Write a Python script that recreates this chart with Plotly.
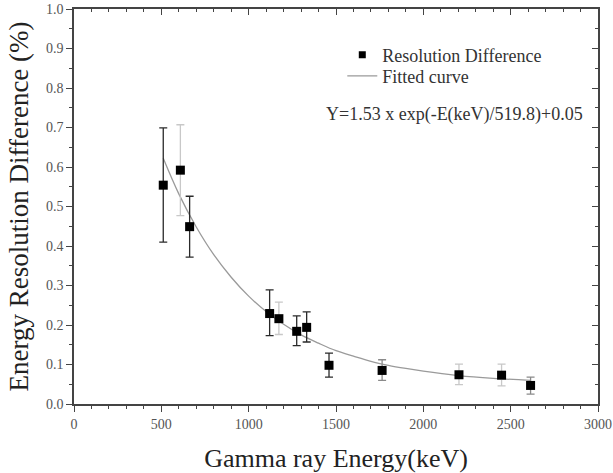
import plotly.graph_objects as go

# ---- data ----
energy_keV = [511, 609, 662, 1120, 1173, 1275, 1332, 1460, 1764, 2204, 2448, 2614]
res_diff = [0.554, 0.592, 0.449, 0.229, 0.216, 0.184, 0.194, 0.098, 0.085, 0.074, 0.073, 0.047]
err_up = [0.145, 0.115, 0.077, 0.060, 0.042, 0.039, 0.039, 0.031, 0.027, 0.027, 0.028, 0.021]
err_down = [0.144, 0.115, 0.077, 0.056, 0.040, 0.036, 0.037, 0.030, 0.025, 0.025, 0.027, 0.022]

fit_E = [511, 600, 700, 800, 900, 1000, 1100, 1200, 1300, 1400, 1500, 1600, 1700,
         1800, 1900, 2000, 2200, 2400, 2614]
fit_Y = [0.622, 0.532, 0.448, 0.378, 0.321, 0.273, 0.234, 0.202, 0.175, 0.154, 0.135,
         0.121, 0.108, 0.098, 0.090, 0.083, 0.072, 0.065, 0.060]

x_ticks = [0, 500, 1000, 1500, 2000, 2500, 3000]
y_ticks = [0.0, 0.1, 0.2, 0.3, 0.4, 0.5, 0.6, 0.7, 0.8, 0.9, 1.0]

equation_text = "Y=1.53 x exp(-E(keV)/519.8)+0.05"
x_title = "Gamma ray Energy(keV)"
y_title = "Energy Resolution Difference (%)"

# error-bar shade groups (style only)
groups = {"#2a2a2a": [0, 2, 3, 5, 6, 7], "#8a8a8a": [8, 11], "#c8c8c8": [1, 4, 9, 10]}

FONT = "Liberation Serif"
fig = go.Figure()

# fitted curve
fig.add_trace(go.Scatter(x=fit_E, y=fit_Y, mode="lines", name="Fitted curve",
                         line=dict(color="#9a9a9a", width=1.3, shape="spline"),
                         legend="legend2"))

# error bars by shade
for col, idx in groups.items():
    fig.add_trace(go.Scatter(
        x=[energy_keV[i] for i in idx], y=[res_diff[i] for i in idx], mode="markers",
        marker=dict(size=1, color="rgba(0,0,0,0)"), showlegend=False, hoverinfo="skip",
        error_y=dict(type="data", symmetric=False,
                     array=[err_up[i] for i in idx], arrayminus=[err_down[i] for i in idx],
                     color=col, thickness=1.3, width=4)))

# data points
fig.add_trace(go.Scatter(x=energy_keV, y=res_diff, mode="markers", showlegend=False,
                         marker=dict(symbol="square", size=9, color="black")))
# legend entry for markers
fig.add_trace(go.Scatter(x=[None], y=[None], mode="markers", name="Resolution Difference",
                         marker=dict(symbol="square", size=7, color="black"), legend="legend"))
# dummy trace for mirror axes
fig.add_trace(go.Scatter(x=[None], y=[None], xaxis="x2", yaxis="y2", showlegend=False,
                         hoverinfo="skip"))

axis_common = dict(showline=True, linecolor="#444", linewidth=1.5, showgrid=False,
                   zeroline=False, mirror=False, automargin=False)
legend_common = dict(xanchor="left", yanchor="top", bgcolor="rgba(0,0,0,0)",
                     font=dict(family=FONT, size=18, color="#333"))

fig.update_layout(
    width=613, height=473,
    margin=dict(l=74, r=15, t=9, b=69),
    paper_bgcolor="white", plot_bgcolor="white",
    font=dict(family=FONT, color="#333"),
    xaxis=dict(range=[0, 3000], tickvals=x_ticks, ticks="outside", ticklen=6, tickwidth=1.2,
               tickcolor="#444", minor=dict(dtick=100, ticks="outside", ticklen=3, tickcolor="#444"),
               tickfont=dict(family=FONT, size=14, color="#555"), ticklabeloverflow="allow",
               title=dict(text=x_title, font=dict(family=FONT, size=26, color="#222"), standoff=20),
               **axis_common),
    yaxis=dict(range=[0, 1], tickvals=y_ticks, tickformat=".1f", ticks="outside", ticklen=6,
               tickwidth=1.2, tickcolor="#444",
               minor=dict(dtick=0.05, ticks="outside", ticklen=3, tickcolor="#444"),
               tickfont=dict(family=FONT, size=14, color="#555"),
               title=dict(text=y_title, font=dict(family=FONT, size=27, color="#222"), standoff=10),
               **axis_common),
    xaxis2=dict(overlaying="x", side="top", anchor="y2", range=[0, 3000], tickvals=x_ticks,
                ticks="inside", ticklen=6, tickwidth=1.2, tickcolor="#444", showticklabels=False,
                minor=dict(dtick=100, ticks="inside", ticklen=3, tickcolor="#444"), **axis_common),
    yaxis2=dict(overlaying="y", side="right", anchor="x2", range=[0, 1], tickvals=y_ticks,
                ticks="inside", ticklen=6, tickwidth=1.2, tickcolor="#444", showticklabels=False,
                minor=dict(dtick=0.05, ticks="inside", ticklen=3, tickcolor="#444"), **axis_common),
    legend=dict(x=0.512, y=0.930, **legend_common),
    legend2=dict(x=0.512, y=0.877, **legend_common),
    annotations=[dict(text=equation_text, xref="paper", yref="paper", x=0.477, y=0.733,
                      xanchor="left", yanchor="middle", showarrow=False,
                      font=dict(family=FONT, size=18, color="#333"))],
)

fig.write_html("out.html")
